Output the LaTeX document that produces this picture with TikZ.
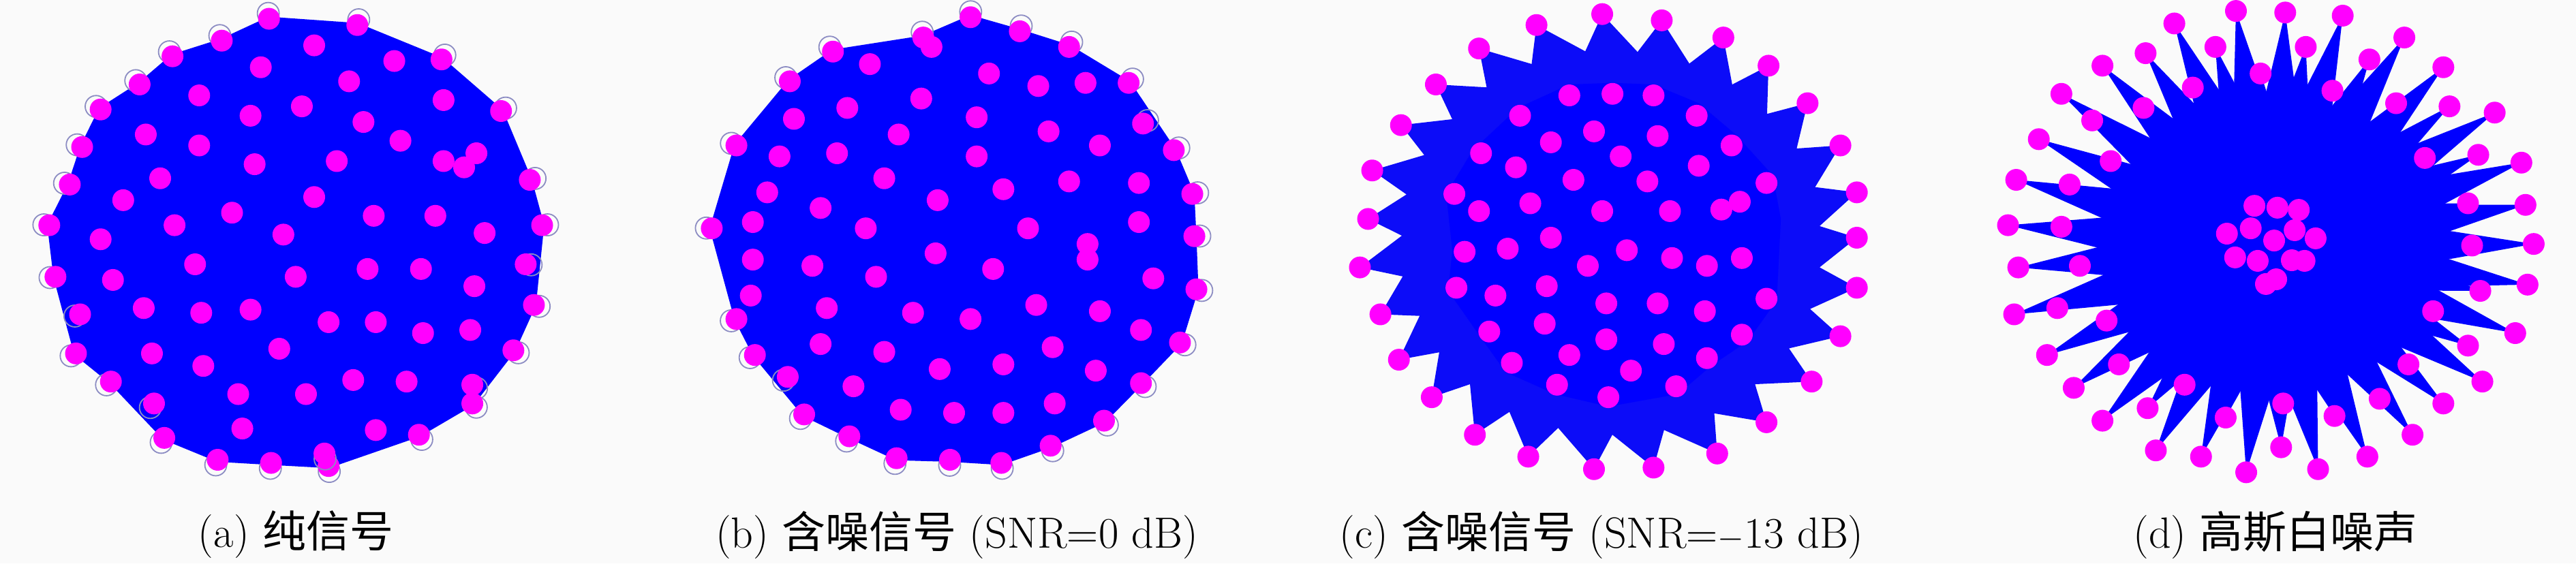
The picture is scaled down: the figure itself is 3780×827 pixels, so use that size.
\documentclass[tikz,border=0pt]{standalone}
\usepackage{fontspec}
\newfontfamily\cjk{Noto Sans CJK SC}
\usetikzlibrary{calc}
\definecolor{gblue}{RGB}{0,0,255}
\definecolor{gmag}{RGB}{255,0,255}
\definecolor{bgc}{RGB}{250,250,250}
\definecolor{ringc}{RGB}{140,140,195}
\definecolor{starblue}{RGB}{12,12,248}
\begin{document}
\begin{tikzpicture}[x=0.5pt,y=-0.5pt,
  dot/.style={fill=gmag},
  ring/.style={draw=ringc,line width=0.9pt},
  hull/.style={fill=gblue,draw=gblue,line width=3pt,line join=round},
  caption/.style={font=\fontsize{32}{38}\selectfont,anchor=center,inner sep=0pt},
  panel/.style={x=0.30133pt,y=-0.22959pt}]
\fill[bgc] (0,0) rectangle (3780,827);
\useasboundingbox (0,0) rectangle (3780,827);

% ---------------- (a) ----------------
\begin{scope}[panel]
\coordinate (ca) at (730,775);
\fill[hull] (655,60) -- (870,80) -- (1075,190) -- (1220,355) -- (1290,575) -- (1320,720) -- (1300,975) -- (1250,1120) -- (1150,1290) -- (1020,1390) -- (800,1490) -- (660,1480) -- (530,1470) -- (400,1400) -- (270,1220) -- (185,1130) -- (135,885) -- (120,720) -- (170,590) -- (200,470) -- (245,350) -- (340,270) -- (420,180) -- (540,130) -- cycle;
\foreach \x/\y in {655/60, 870/80, 1075/190, 1220/355, 1290/575, 1320/720, 1280/845, 1300/975, 1250/1120, 1150/1230, 1150/1290, 1020/1390, 800/1490, 790/1450, 660/1480, 530/1470, 400/1400, 375/1290, 270/1220, 185/1130, 195/1005, 135/885, 120/720, 170/590, 200/470, 245/350, 340/270, 420/180, 540/130}
  {\draw[ring] ($(\x,\y)!-4pt!(ca)$) circle[radius=8pt];
   \fill[dot] (\x,\y) circle[radius=8pt];}
\foreach \x/\y in {765/145, 960/195, 635/215, 850/260, 485/305, 1080/320, 735/340, 610/370, 885/390, 355/430, 975/450, 485/465, 1160/490, 1080/515, 1130/535, 620/525, 820/515, 390/570, 765/630, 300/640, 565/680, 910/690, 1060/690, 425/720, 690/750, 245/765, 1180/745, 475/845, 895/860, 1025/860, 275/895, 720/885, 1155/915, 350/985, 490/1000, 610/990, 800/1030, 915/1030, 1030/1065, 1145/1055, 680/1115, 370/1130, 495/1170, 860/1215, 990/1220, 580/1260, 745/1260, 590/1370, 915/1375}
  \fill[dot] (\x,\y) circle[radius=8pt];
\end{scope}

% ---------------- (b) ----------------
\begin{scope}[shift={(472.5pt,0pt)},panel]
\coordinate (cb) at (780,770);
\fill[hull] (795,55) -- (915,100) -- (1035,150) -- (1180,265) -- (1290,480) -- (1335,620) -- (1340,755) -- (1345,925) -- (1305,1095) -- (1210,1225) -- (1120,1345) -- (990,1425) -- (870,1480) -- (745,1470) -- (615,1465) -- (500,1395) -- (390,1325) -- (270,1135) -- (225,1020) -- (165,730) -- (225,465) -- (355,260) -- (460,165) -- (680,120) -- cycle;
\foreach \x/\y in {795/55, 915/100, 1035/150, 680/120, 460/165, 355/260, 1180/265, 1215/395, 1290/480, 1335/620, 1340/755, 1345/925, 1305/1095, 1210/1225, 1120/1345, 990/1425, 870/1480, 745/1470, 615/1465, 500/1395, 390/1325, 350/1205, 270/1135, 225/1020, 165/730, 225/465}
  {\draw[ring] ($(\x,\y)!-4pt!(cb)$) circle[radius=8pt];
   \fill[dot] (\x,\y) circle[radius=8pt];}
\foreach \x/\y in {700/150, 550/205, 840/235, 960/275, 1075/265, 675/315, 495/345, 365/380, 810/375, 620/430, 985/420, 1110/465, 330/500, 470/490, 810/500, 585/570, 1035/580, 1205/585, 300/615, 875/605, 715/640, 430/665, 265/710, 540/730, 935/730, 1205/710, 1080/780, 1080/830, 710/810, 265/830, 410/850, 565/885, 850/860, 1240/890, 260/945, 445/985, 655/1000, 795/1020, 955/975, 1110/995, 1210/1055, 430/1100, 585/1125, 995/1110, 720/1180, 875/1165, 1100/1185, 510/1235, 625/1310, 755/1320, 875/1320, 1000/1290}
  \fill[dot] (\x,\y) circle[radius=8pt];
\end{scope}

% ---------------- (c) ----------------
\begin{scope}[shift={(945pt,0pt)},panel]
\coordinate (cc) at (780,775);
\foreach \x/\y [count=\i] in {765/45, 910/65, 1060/120, 1170/210, 1265/330, 1345/465, 1385/615, 1385/760, 1385/920, 1345/1075, 1275/1220, 1165/1350, 1045/1450, 890/1495, 745/1500, 585/1460, 455/1390, 350/1270, 270/1150, 225/1005, 175/855, 195/700, 205/545, 275/400, 360/270, 465/155, 605/80}
  \coordinate (c\i) at (\x,\y);
\foreach \i [evaluate=\i as \j using {int(mod(\i,27)+1)}] in {1,...,27}
  {\coordinate (m\i) at ($(c\i)!0.68!(c\j)$);
   \coordinate (n\i) at ($(cc)!0.85!(m\i)$);}
\fill[starblue,line join=round] (c1) \foreach \i [evaluate=\i as \j using {int(\i+1)}] in {1,...,26} { -- (n\i) -- (c\j) } -- (n27) -- cycle;
\fill[gblue,line join=round] (685,270) -- (790,265) -- (890,270) -- (1000,330) -- (1090,430) -- (1180,560) -- (1200,700) -- (1190,960) -- (1120,1090) -- (1030,1170) -- (950,1260) -- (780,1300) -- (650,1260) -- (530,1190) -- (470,1080) -- (390,930) -- (400,800) -- (385,620) -- (450,480) -- (560,345) -- cycle;
\foreach \i in {1,...,27}
  \fill[dot] (c\i) circle[radius=8pt];
\foreach \x/\y in {685/305, 790/300, 890/305, 995/370, 565/370, 745/420, 900/435, 640/455, 1080/465, 470/490, 810/500, 555/535, 1000/530, 695/575, 875/580, 1165/585, 405/620, 590/650, 765/675, 930/675, 1055/670, 1100/645, 465/675, 640/760, 430/805, 535/795, 825/800, 935/825, 730/850, 1020/850, 1105/825, 410/920, 505/945, 630/915, 775/970, 900/970, 1015/995, 1165/955, 490/1060, 625/1035, 775/1085, 915/1100, 1105/1070, 685/1135, 545/1160, 1020/1145, 835/1185, 655/1230, 945/1235, 780/1270}
  \fill[dot] (\x,\y) circle[radius=8pt];
\end{scope}

% ---------------- (d) ----------------
\begin{scope}[shift={(1417.5pt,0pt)},panel]
\coordinate (cd) at (830,790);
\foreach \x/\y in {740/35, 860/40, 1000/50, 1150/120, 1245/215, 1370/360, 1435/520, 1445/655, 1465/780, 1450/910, 1420/1065, 1340/1220, 1245/1290, 1170/1390, 1060/1460, 940/1500, 765/1510, 655/1460, 545/1440, 415/1345, 345/1240, 280/1135, 200/1005, 210/855, 185/720, 205/575, 260/445, 315/300, 415/210, 520/170, 590/75,
  690/150, 910/150, 1065/190, 800/235, 635/280, 975/290, 1130/330, 1260/340, 515/345, 390/385, 1330/495, 1200/505, 435/515, 335/590, 1305/650, 315/725, 1315/785, 360/850, 1335/930, 305/985, 1220/995, 425/1025, 1305/1105, 455/1165, 1160/1165, 615/1230, 1090/1275, 525/1305, 855/1290, 715/1335, 980/1330, 850/1430}
  \fill[gblue] (\x,\y) -- ($(cd)!32pt!90:(\x,\y)$) -- ($(cd)!32pt!-90:(\x,\y)$) -- cycle;
\fill[gblue] (cd) ellipse[x radius=400, y radius=430];
\foreach \x/\y in {740/35, 860/40, 1000/50, 1150/120, 1245/215, 1370/360, 1435/520, 1445/655, 1465/780, 1450/910, 1420/1065, 1340/1220, 1245/1290, 1170/1390, 1060/1460, 940/1500, 765/1510, 655/1460, 545/1440, 415/1345, 345/1240, 280/1135, 200/1005, 210/855, 185/720, 205/575, 260/445, 315/300, 415/210, 520/170, 590/75,
  690/150, 910/150, 1065/190, 800/235, 635/280, 975/290, 1130/330, 1260/340, 515/345, 390/385, 1330/495, 1200/505, 435/515, 335/590, 1305/650, 315/725, 1315/785, 360/850, 1335/930, 305/985, 1220/995, 425/1025, 1305/1105, 455/1165, 1160/1165, 615/1230, 1090/1275, 525/1305, 855/1290, 715/1335, 980/1330, 850/1430,
  785/658, 841/664, 893/671, 718/747, 776/730, 883/736, 934/762, 833/769, 738/823, 793/834, 876/832, 907/834, 813/908, 838/893}
  \fill[dot] (\x,\y) circle[radius=8pt];
\end{scope}

% ---------------- captions ----------------
\node[caption] (capa) at (434,785) {(a) {\cjk 纯信号}};
\node[caption] (capb) at (1404,785) {(b) {\cjk 含噪信号} (SNR=0 dB)};
\node[caption] (capc) at (2350,785) {(c) {\cjk 含噪信号} (SNR=$-$13 dB)};
\node[caption] (capd) at (3339,785) {(d) {\cjk 高斯白噪声}};
\end{tikzpicture}
\end{document}
